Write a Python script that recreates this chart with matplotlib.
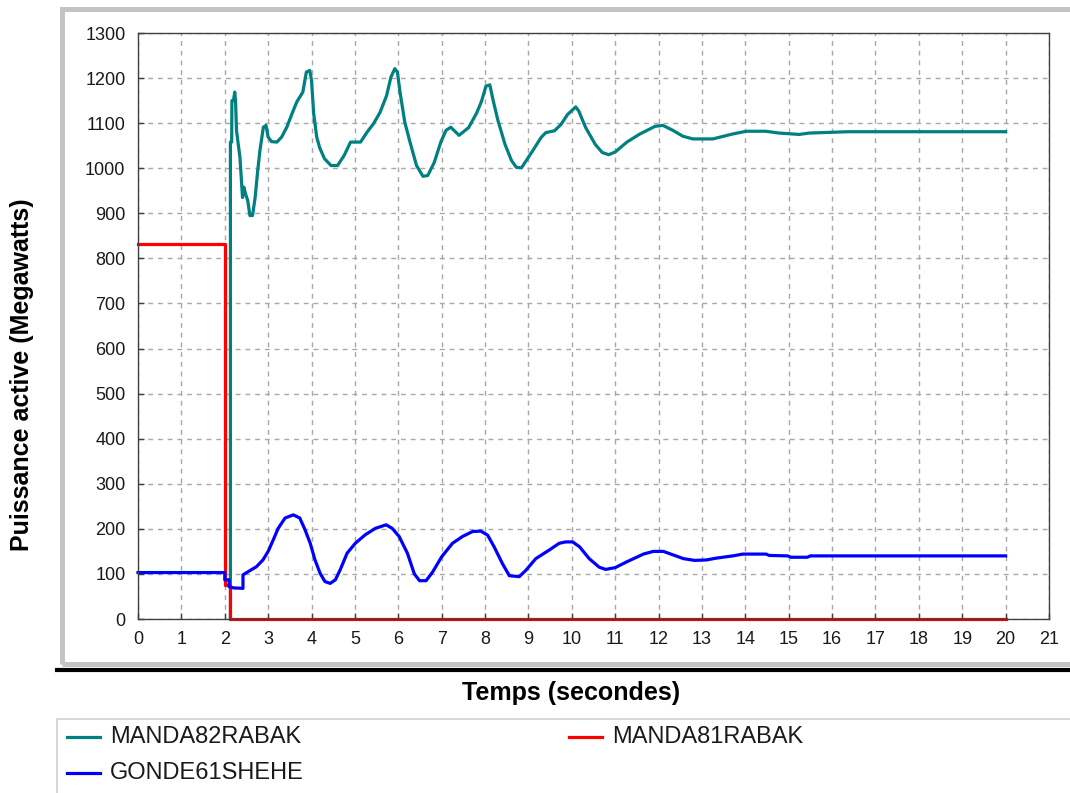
"""
Puissance active des groupes - recreation du graphique.
"""

import matplotlib
matplotlib.use('Agg')
import matplotlib.pyplot as plt
from matplotlib.patches import Rectangle
from matplotlib.lines import Line2D

plt.rcParams['font.family'] = ['Liberation Sans', 'DejaVu Sans']

# donnees (temps en s, puissance en MW)
t_manda82 = [2.13, 2.13, 2.16, 2.165, 2.2, 2.23, 2.25, 2.27, 2.35, 2.41, 2.44, 2.48, 2.53,
             2.58, 2.64, 2.70, 2.76, 2.81, 2.89, 2.95, 3.0, 3.08, 3.2, 3.31, 3.43, 3.55,
             3.66, 3.80, 3.88, 3.96, 4.0, 4.05, 4.12, 4.19, 4.3, 4.45, 4.6, 4.75, 4.9,
             5.13, 5.28, 5.43, 5.58, 5.73, 5.83, 5.92, 5.98, 6.04, 6.15, 6.27, 6.42,
             6.57, 6.68, 6.83, 6.98, 7.1, 7.21, 7.4, 7.62, 7.81, 7.92, 8.02, 8.11, 8.19,
             8.3, 8.46, 8.61, 8.72, 8.84, 8.95, 9.1, 9.29, 9.4, 9.6, 9.75, 9.9, 10.09,
             10.16, 10.32, 10.54, 10.7, 10.85, 11.0, 11.27, 11.57, 11.92, 12.1, 12.33,
             12.56, 12.79, 13.25, 13.71, 14.02, 14.47, 14.78, 15.24, 15.47, 16.38, 20.0]
p_manda82 = [0, 1058, 1058, 1150, 1150, 1169, 1147, 1084, 1024, 935, 958, 943, 928,
             895, 895, 935, 995, 1039, 1091, 1095, 1069, 1059, 1058, 1069, 1091, 1121,
             1147, 1169, 1213, 1217, 1195, 1121, 1069, 1045, 1021, 1006, 1006, 1028, 1058,
             1058, 1080, 1099, 1124, 1161, 1202, 1221, 1213, 1169, 1102, 1058, 1006,
             982, 984, 1013, 1058, 1084, 1091, 1073, 1090, 1123, 1149, 1182, 1185, 1149,
             1105, 1053, 1017, 1002, 1001, 1017, 1039, 1068, 1079, 1083, 1097, 1119, 1136,
             1127, 1090, 1053, 1035, 1030, 1036, 1058, 1076, 1093, 1095, 1084,
             1071, 1065, 1065, 1076, 1082, 1082, 1078, 1075, 1078, 1081, 1081]

t_manda81 = [0, 2.0, 2.0, 2.12, 2.12, 20.0]
p_manda81 = [832, 832, 75, 75, 0, 0]

t_gonde61 = [0, 2.0, 2.0, 2.1, 2.1, 2.2, 2.42, 2.42, 2.54, 2.73, 2.88, 3.0, 3.12, 3.23,
             3.39, 3.58, 3.73, 3.85, 3.97, 4.08, 4.2, 4.31, 4.43, 4.55, 4.66, 4.82, 5.01,
             5.24, 5.47, 5.72, 5.86, 6.02, 6.21, 6.37, 6.49, 6.64, 6.79, 7.0, 7.25, 7.48,
             7.71, 7.9, 8.06, 8.21, 8.4, 8.56, 8.79, 8.94, 9.17, 9.48, 9.71, 9.86, 10.02,
             10.18, 10.4, 10.63, 10.78, 11.0, 11.27, 11.65, 11.88, 12.11, 12.34, 12.57,
             12.83, 13.1, 13.33, 13.71, 13.94, 14.48, 14.55, 14.98, 15.05, 15.43, 15.5, 20.0]
p_gonde61 = [103, 103, 87, 87, 72, 69, 68, 98, 105, 116, 131, 150, 176, 201,
             224, 231, 224, 198, 168, 131, 101, 83, 79, 87, 109, 146, 168,
             187, 201, 209, 201, 183, 146, 100, 85, 85, 104, 138, 168, 183,
             194, 195, 186, 160, 123, 96, 94, 108, 134, 153, 168, 171, 171,
             160, 134, 115, 110, 114, 127, 144, 150, 150, 142, 134,
             130, 131, 135, 140, 144, 144, 141, 140, 137, 137, 140, 140]

labels = ['MANDA82RABAK', 'MANDA81RABAK', 'GONDE61SHEHE']
colors = ['#008080', '#ff0000', '#0000ff']

W, H = 1070, 793


def fx(x):
    return x / W


def fy(y):
    return 1 - y / H


fig = plt.figure(figsize=(W / 100, H / 100), dpi=100)

# cadre gris autour du graphique
fig.add_artist(Rectangle((fx(61.5), fy(664)), fx(1100 - 61.5), fy(9) - fy(664),
                         transform=fig.transFigure, fill=False,
                         edgecolor='#c4c4c4', linewidth=3.6))
fig.add_artist(Line2D([fx(57), fx(1070)], [fy(670), fy(670)],
                      transform=fig.transFigure, color='black', linewidth=3.0))

ax = fig.add_axes([fx(138), fy(619), fx(1049 - 138), fy(33) - fy(619)])
lines = []
for t, p, c in zip([t_manda82, t_manda81, t_gonde61],
                   [p_manda82, p_manda81, p_gonde61], colors):
    ln, = ax.plot(t, p, color=c, linewidth=2.3, clip_on=False)
    lines.append(ln)

ax.set_xlim(0, 21)
ax.set_ylim(0, 1300)
ax.set_xticks(range(0, 22))
ax.set_yticks(range(0, 1301, 100))
ax.grid(True, color='#a8a8a8', linestyle=(0, (3.5, 3.5)), linewidth=1.0)
ax.set_axisbelow(True)
ax.tick_params(direction='in', length=4, width=1, color='#404040',
               labelsize=13, labelcolor='#1a1a1a', pad=9)
for s in ax.spines.values():
    s.set_color('#404040')
    s.set_linewidth(1.0)

fig.text(fx(571), fy(693), 'Temps (secondes)', ha='center', va='center',
         fontsize=18, fontweight='bold')
fig.text(fx(22), fy(375), 'Puissance active (Megawatts)', ha='center', va='center',
         rotation=90, fontsize=18, fontweight='bold')

# legende
fig.add_artist(Rectangle((fx(57), fy(800)), fx(1100 - 57), fy(719) - fy(800),
                         transform=fig.transFigure, fill=False,
                         edgecolor='#d0d0d0', linewidth=1.2))
leg_pos = [(67, 737), (569, 737), (67, 773)]
for (x, y), ln, lab in zip(leg_pos, lines, labels):
    fig.add_artist(Line2D([fx(x), fx(x + 33)], [fy(y), fy(y)],
                          transform=fig.transFigure, color=ln.get_color(), linewidth=2.3))
    fig.text(fx(x + 43), fy(y), lab, ha='left', va='center', fontsize=17,
             color='#1a1a1a')

fig.savefig('out.png', dpi=100)
